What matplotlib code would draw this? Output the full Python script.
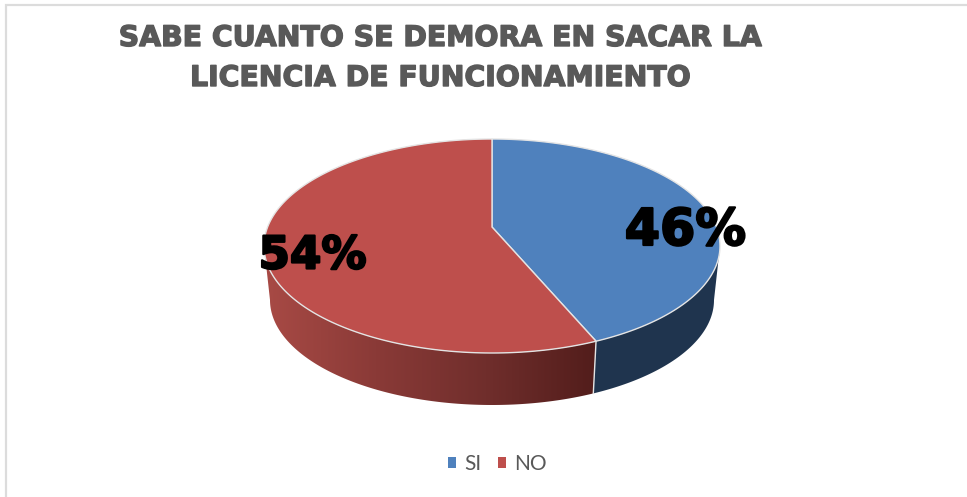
import numpy as np
import matplotlib
matplotlib.use("Agg")
import matplotlib.pyplot as plt
from matplotlib.patches import Polygon, Patch
from matplotlib.colors import LinearSegmentedColormap
import matplotlib.patheffects as pe

categories = ["SI", "NO"]
values = [46, 54]
value_labels = ["46%", "54%"]
title_lines = ["SABE CUANTO SE DEMORA EN SACAR LA", "LICENCIA DE FUNCIONAMIENTO"]

BLUE, RED = "#4F81BD", "#BE4F4C"
BLUE_WALL = "#1F344E"
GREY = "#595959"
EDGE = "#E4E4E4"

# Pixel-like canvas geometry
CX = 492.0
TOP_CY, TOP_RX, TOP_RY = 246.0, 228.0, 107.0
LOW_CY, LOW_RX, LOW_RY = 300.0, 222.0, 105.0
APEX_Y = 227.0
SQUEEZE = 0.923  # perspective foreshortening of the first slice


def ell(t, cy, rx, ry):
    t = np.radians(t)
    return np.column_stack([CX + rx * np.sin(t), cy - ry * np.cos(t)])


fig = plt.figure(figsize=(9.67, 4.97), dpi=100)
ax = fig.add_axes([0, 0, 1, 1])
ax.set_xlim(0, 967)
ax.set_ylim(497, 0)
ax.axis("off")

# Chart frame (only the top and left edges are visible)
ax.plot([5.5, 5.5, 967], [497, 4.5, 4.5], color="#DCDCDC", lw=1.6, solid_joinstyle="miter")

t_b = 360 * values[0] / sum(values) * SQUEEZE

# Side walls
ts_blue = np.linspace(90, t_b, 80)
blue_wall = np.vstack([ell(ts_blue, TOP_CY, TOP_RX, TOP_RY), ell(ts_blue[::-1], LOW_CY, LOW_RX, LOW_RY)])
ax.add_patch(Polygon(blue_wall, closed=True, fc=BLUE_WALL, ec="none", zorder=2))

ts_red = np.linspace(t_b, 270, 140)
red_wall = np.vstack([ell(ts_red, TOP_CY, TOP_RX, TOP_RY), ell(ts_red[::-1], LOW_CY, LOW_RX, LOW_RY)])
wall_patch = Polygon(red_wall, closed=True, fc="none", ec="none", zorder=2)
ax.add_patch(wall_patch)
cmap = LinearSegmentedColormap.from_list("wall", ["#A84A45", "#8A3A37", "#702E2C", "#521D1B"])
im = ax.imshow(np.linspace(0, 1, 256)[None, :], cmap=cmap, aspect="auto",
               extent=[CX - LOW_RX - 5, ell([t_b], LOW_CY, LOW_RX, LOW_RY)[0, 0] + 3, 497, 0], zorder=2)
im.set_clip_path(wall_patch)
ax.set_xlim(0, 967)
ax.set_ylim(497, 0)

# Seam between the two walls
seam = np.vstack([ell([t_b], TOP_CY, TOP_RX, TOP_RY), ell([t_b], LOW_CY, LOW_RX, LOW_RY)])
ax.plot(seam[:, 0], seam[:, 1], color=EDGE, lw=1.0, zorder=3)

# Top faces
apex = np.array([[CX, APEX_Y]])
si = np.vstack([apex, ell(np.linspace(0, t_b, 120), TOP_CY, TOP_RX, TOP_RY)])
no = np.vstack([apex, ell(np.linspace(t_b, 360, 180), TOP_CY, TOP_RX, TOP_RY)])
ax.add_patch(Polygon(si, closed=True, fc=BLUE, ec=EDGE, lw=1.0, zorder=4))
ax.add_patch(Polygon(no, closed=True, fc=RED, ec=EDGE, lw=1.0, zorder=4))

# Data labels
heavy = [pe.withStroke(linewidth=1.6, foreground="black")]
ax.text(685.5, 231, value_labels[0], fontsize=36.5, family="DejaVu Sans", weight="bold",
        color="black", ha="center", va="center", zorder=6, path_effects=heavy)
ax.text(312.5, 256, value_labels[1], fontsize=32.5, family="DejaVu Sans", weight="bold",
        color="black", ha="center", va="center", zorder=6, path_effects=heavy)

# Title
for line, y in zip(title_lines, [38, 78]):
    ax.text(441, y, line, fontsize=20.4, family="DejaVu Sans", weight="bold", color=GREY,
            ha="center", va="center", zorder=6,
            path_effects=[pe.withStroke(linewidth=1.0, foreground=GREY)])

# Legend
handles = [Patch(fc=BLUE, ec="none"), Patch(fc=RED, ec="none")]
ax.legend(handles, categories, loc="center", bbox_to_anchor=(497.5 / 967, 1 - 464 / 497),
          ncol=2, frameon=False, handlelength=0.4, handleheight=0.4, handletextpad=0.38,
          columnspacing=0.8, labelcolor=GREY,
          prop={"family": "Lato", "size": 15})

fig.savefig("out.png", dpi=100, facecolor="white")
